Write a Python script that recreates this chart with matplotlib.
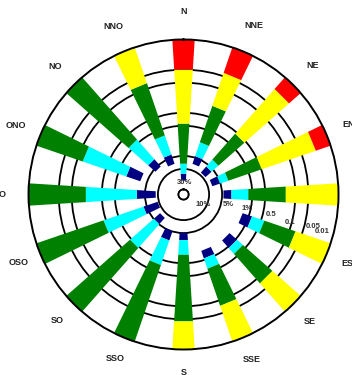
import numpy as np
import matplotlib
matplotlib.use("Agg")
import matplotlib.pyplot as plt

# Sectores de dirección (sentido horario desde el norte)
direcciones = ["N", "NNE", "NE", "ENE", "E", "ESE", "SE", "SSE",
               "S", "SSO", "SO", "OSO", "O", "ONO", "NO", "NNO"]

# Frecuencia (%) de velocidades que superan cada umbral, por dirección.
# 0 = la clase no aparece en ese sector
total = [18.5, 7.1, 8.8, 7.9, 4.6, 1.43, 1.59, 1.67, 5.0, 5.1, 7.9, 9.3, 8.8, 3.5, 5.7, 7.1]
supera_1 = [12.8, 4.6, 5.7, 5.1, 3.0, 0.84, 0.93, 1.09, 3.4, 3.0, 5.1, 4.2, 3.2, 1.59, 3.4, 4.2]
supera_2 = [7.5, 2.1, 3.5, 3.2, 1.22, 0.42, 0.61, 0.61, 1.55, 0.75, 0.93, 0.44, 0.21, 0.136, 0.84, 1.43]
supera_3 = [0.88, 0.27, 0.55, 0.49, 0.164, 0.072, 0.075, 0.075, 0.044, 0.01, 0.01, 0.01, 0.01, 0.01, 0.01, 0.075]
supera_4 = [0.049, 0.042, 0.023, 0.023, 0.01, 0.01, 0.01, 0.01, 0.01, 0, 0, 0, 0, 0, 0, 0.01]
supera_5 = [0.01, 0.01, 0.01, 0.01, 0, 0, 0, 0, 0, 0, 0, 0, 0, 0, 0, 0]

colores = ["#000080", "#00FFFF", "#008000", "#FFFF00", "#FF0000"]

# Círculos de referencia y sus etiquetas
anillos = [30, 10, 5, 1, 0.5, 0.1, 0.05, 0.01]
etiquetas_anillos = ["30%", "10%", "5%", "1%", "0.5", "0.1", "0.05", "0.01"]
pos_etiquetas = [(7, 21), (118, 12.1), (103, 3.4), (102, 1.22),
                 (102.6, 0.327), (104.5, 0.11), (103.7, 0.032), (105, 0.018)]

# separación (px) entre el borde exterior y el nombre de cada sector
sep_nombres = [28, 28, 28, 27, 26, 26, 24, 24, 23, 23, 23, 24, 26, 26, 26, 27]

fig = plt.figure(figsize=(3.52, 3.75), dpi=100)
ax = fig.add_axes([0.081, 0.068, 0.8807, 0.8267], projection="polar")
ax.set_theta_zero_location("N")
ax.set_theta_direction(-1)
ax.set_rscale("log")
ax.set_rlim(30, 0.01)
ax.set_rorigin(39.2)
ax.set_thetalim(0, 2 * np.pi)
ax.set_autoscale_on(False)

centro = ax.transAxes.transform((0.5, 0.5))


def radio_px(valor):
    pt = ax.transData.transform((0.0, valor))
    return np.hypot(*(pt - centro))


def semiancho(valor):
    # las barras son trapecios: algo más anchas cerca del centro
    r = radio_px(valor)
    return 1.5 / r + 0.0625


theta = np.deg2rad(np.arange(len(direcciones)) * 22.5)

limites = [total, supera_1, supera_2, supera_3, supera_4, supera_5]
for k, color in enumerate(colores):
    for t, ini, fin in zip(theta, limites[k], limites[k + 1]):
        if fin <= 0 or ini <= fin:
            continue
        h0, h1 = semiancho(ini), semiancho(fin)
        ax.fill([t - h0, t + h0, t + h1, t - h1], [ini, ini, fin, fin],
                color=color, edgecolor="none", zorder=2)

ax.set_axisbelow(True)
ax.set_yticks(anillos[:-1])
ax.set_yticklabels([])
ax.yaxis.grid(True, color="black", linewidth=1.3, linestyle="-")
ax.xaxis.grid(False)
ax.set_xticks([])
ax.spines["polar"].set_linewidth(1.4)
ax.spines["inner"].set_linewidth(1.3)

for (ang, val), txt in zip(pos_etiquetas, etiquetas_anillos):
    ax.text(np.deg2rad(ang), val, txt, fontsize=5.5, fontweight="bold",
            color="#333333", ha="center", va="center",
            family="Liberation Sans", zorder=5)

for t, nombre, sep in zip(theta, direcciones, sep_nombres):
    ax.annotate(nombre, xy=(t, 0.01),
                xytext=(sep * np.sin(t), sep * np.cos(t)),
                textcoords="offset pixels", fontsize=6.5, fontweight="bold",
                color="#222222", ha="center", va="center",
                family="Liberation Sans", annotation_clip=False)

fig.savefig("out.png", dpi=100)
